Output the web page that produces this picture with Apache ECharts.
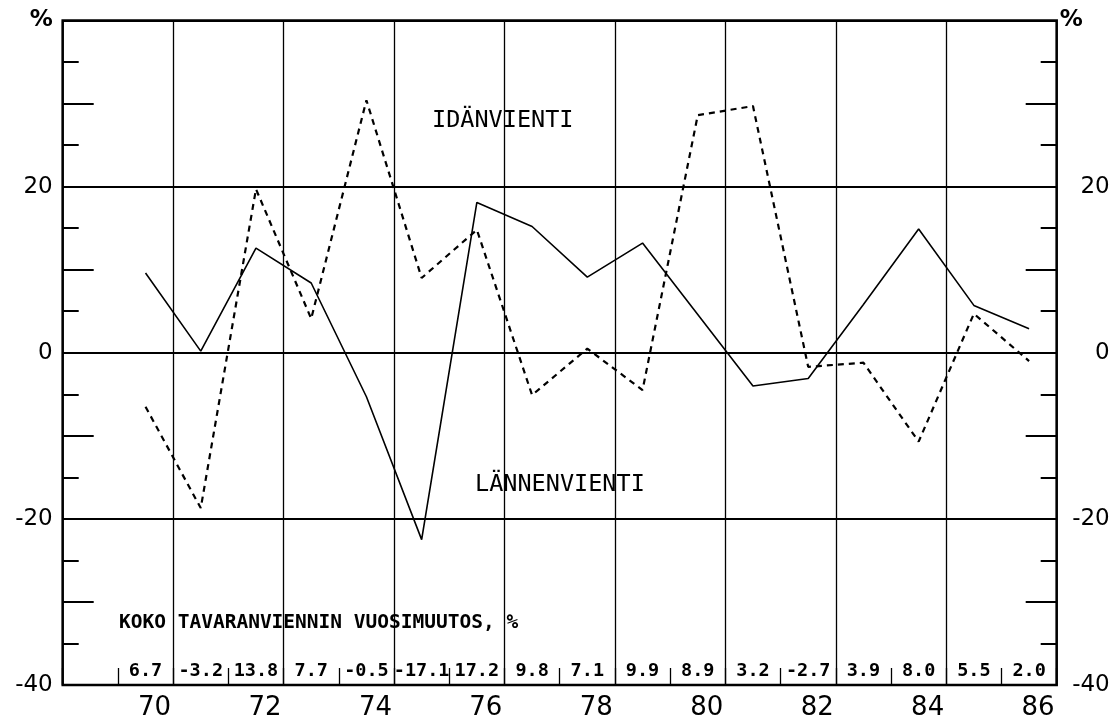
<!DOCTYPE html>
<html><head><meta charset="utf-8">
<script src="https://cdn.jsdelivr.net/npm/echarts@6/dist/echarts.min.js"></script>
<style>html,body{margin:0;padding:0;background:#fff}#c{width:1120px;height:721px}</style>
</head><body><div id="c"></div>
<script>
// Years as bands (69 only pads the left edge of the frame)
const YEARS = ['69','70','71','72','73','74','75','76','77','78','79','80','81','82','83','84','85','86'];
const YEAR_LABELS = ['70','72','74','76','78','80','82','84','86'];
// Lännenvienti (solid line), annual change %
const LANNENVIENTI = [null, 9.6, 0.2, 12.6, 8.4, -5.3, -22.5, 18.1, 15.2, 9.1, 13.2, 4.6, -4.0, -3.1, 5.8, 14.9, 5.7, 2.9];
// Idänvienti (dashed line), annual change %
const IDANVIENTI = [null, -6.5, -18.7, 19.7, 4.1, 30.4, 9.0, 14.8, -5.1, 0.5, -4.5, 28.6, 29.7, -1.7, -1.2, -10.7, 4.7, -1.0];
// Koko tavaranviennin vuosimuutos, %
const KOKO = [null, 6.7, -3.2, 13.8, 7.7, -0.5, -17.1, 17.2, 9.8, 7.1, 9.9, 8.9, 3.2, -2.7, 3.9, 8.0, 5.5, 2.0];
const Y_MIN = -40, Y_MAX = 40;

const FONT = 'DejaVu Sans';
const MONO = 'DejaVu Sans Mono';
const chart = echarts.init(document.getElementById('c'), null, {renderer: 'canvas'});
const xMin = Number(YEARS[0]) - 0.5, xMax = Number(YEARS[YEARS.length - 1]) + 0.5;

chart.setOption({
  animation: false,
  backgroundColor: '#fff',
  grid: {left: 62.7, right: 63.3, top: 20.5, bottom: 35.5, show: true, borderColor: '#000', borderWidth: 2.5, backgroundColor: 'transparent'},
  xAxis: [
    {
      type: 'category', data: YEARS, position: 'bottom', boundaryGap: true,
      axisLine: {show: false, onZero: false}, axisTick: {show: false}, splitLine: {show: false},
      axisLabel: {
        interval: (i, v) => YEAR_LABELS.includes(String(v)),
        fontFamily: FONT, fontSize: 26, color: '#000', margin: 10, padding: [0, 0, 0, 18]
      }
    },
    {
      type: 'category', data: YEARS, position: 'bottom', boundaryGap: true,
      axisLine: {show: false, onZero: false}, splitLine: {show: false},
      axisTick: {show: true, inside: true, length: 17, interval: 0, lineStyle: {color: '#000', width: 1.3}},
      axisLabel: {
        inside: true, interval: 0, margin: 4,
        formatter: (v, i) => KOKO[i] == null ? '' : KOKO[i].toFixed(1),
        fontFamily: MONO, fontWeight: 'bold', fontSize: 18.5, color: '#000'
      }
    },
    {
      type: 'value', min: xMin, max: xMax, interval: 2, position: 'top',
      axisLine: {show: false, onZero: false}, axisTick: {show: false}, axisLabel: {show: false},
      splitLine: {show: true, lineStyle: {color: '#000', width: 1.3}}
    }
  ],
  yAxis: [
    {
      type: 'value', min: Y_MIN, max: Y_MAX, interval: 10, position: 'left',
      axisLine: {show: false, onZero: false}, splitLine: {show: false},
      axisTick: {show: true, inside: true, length: 31, lineStyle: {color: '#000', width: 2}},
      minorTick: {show: true, splitNumber: 2, length: 16, lineStyle: {color: '#000', width: 2}},
      axisLabel: {
        margin: 10, fontFamily: FONT, fontSize: 23, color: '#000',
        formatter: v => v === Y_MAX ? '{p|%}' : (v % 20 === 0 ? String(v) : ''),
        rich: {p: {fontFamily: FONT, fontWeight: 'bold', fontSize: 23, color: '#000'}}
      }
    },
    {
      type: 'value', min: Y_MIN, max: Y_MAX, interval: 10, position: 'right',
      axisLine: {show: false, onZero: false}, splitLine: {show: false},
      axisTick: {show: true, inside: true, length: 31, lineStyle: {color: '#000', width: 2}},
      minorTick: {show: true, splitNumber: 2, length: 16, lineStyle: {color: '#000', width: 2}},
      axisLabel: {
        margin: 53, align: 'right', fontFamily: FONT, fontSize: 23, color: '#000',
        formatter: v => v === Y_MAX ? '{q|%}' : (v % 20 === 0 ? String(v) : ''),
        rich: {q: {fontFamily: FONT, fontWeight: 'bold', fontSize: 23, color: '#000', padding: [0, 27, 0, 0]}}
      }
    },
    {
      type: 'value', min: Y_MIN, max: Y_MAX, interval: 20, position: 'left',
      axisLine: {show: false, onZero: false}, axisTick: {show: false}, axisLabel: {show: false},
      splitLine: {show: true, lineStyle: {color: '#000', width: 2}}
    }
  ],
  series: [
    {
      name: 'Lännenvienti', type: 'line', xAxisIndex: 0, yAxisIndex: 0,
      data: LANNENVIENTI, symbol: 'none', silent: true,
      lineStyle: {color: '#000', width: 1.6, type: 'solid'}
    },
    {
      name: 'Idänvienti', type: 'line', xAxisIndex: 0, yAxisIndex: 0,
      data: IDANVIENTI, symbol: 'none', silent: true,
      lineStyle: {color: '#000', width: 2.2, type: [6, 5]}
    }
  ],
  graphic: [
    {type: 'text', x: 432, y: 121, z: 100,
     style: {text: 'IDÄNVIENTI', font: '23.5px "' + MONO + '"', fill: '#000', verticalAlign: 'middle', align: 'left'}},
    {type: 'text', x: 475, y: 485, z: 100,
     style: {text: 'LÄNNENVIENTI', font: '23.5px "' + MONO + '"', fill: '#000', verticalAlign: 'middle', align: 'left'}},
    {type: 'text', x: 119, y: 622.5, z: 100,
     style: {text: 'KOKO TAVARANVIENNIN VUOSIMUUTOS, %', font: 'bold 19.5px "' + MONO + '"', fill: '#000', verticalAlign: 'middle', align: 'left'}}
  ]
});
</script>
</body></html>
